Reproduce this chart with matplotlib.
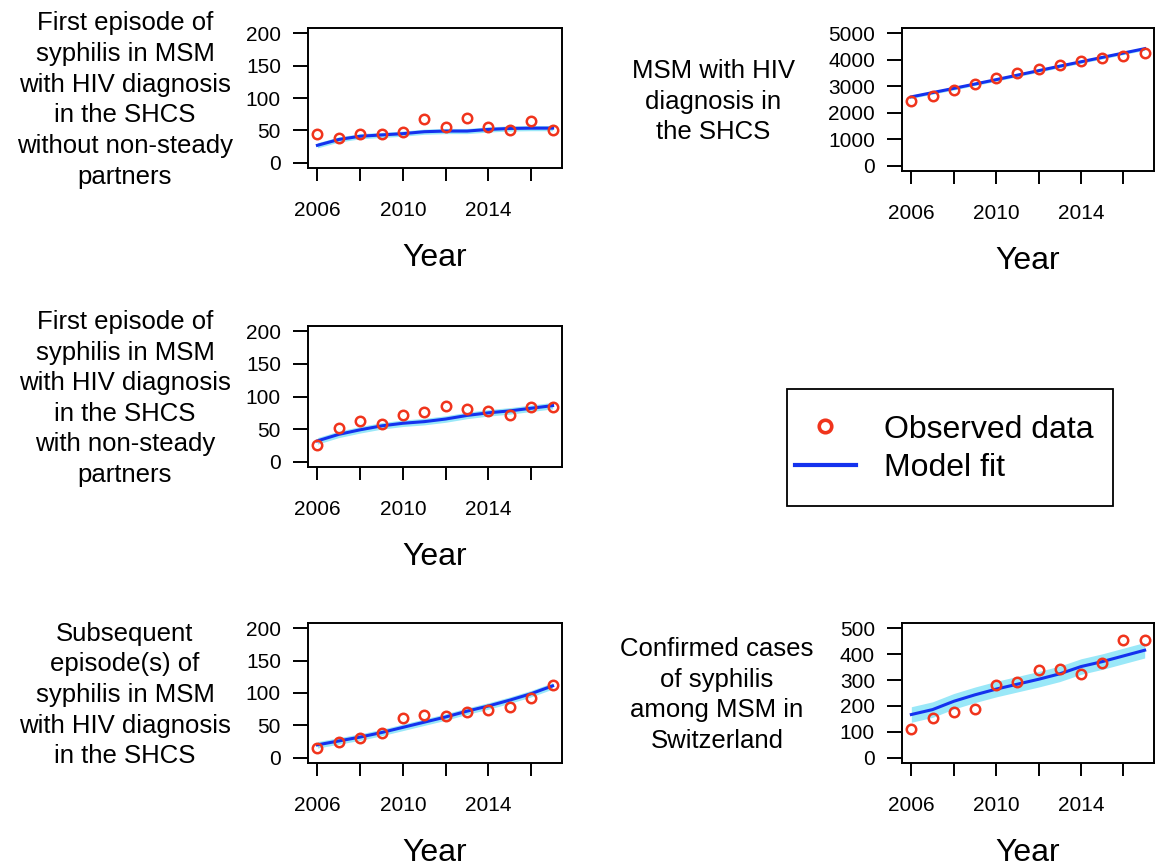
import numpy as np
import matplotlib
matplotlib.use("Agg")
import matplotlib.pyplot as plt
from matplotlib.patches import Rectangle
from matplotlib.lines import Line2D

plt.rcParams['font.family'] = ['Liberation Sans', 'DejaVu Sans']

years = list(range(2006, 2018))
tick_years = list(range(2006, 2017, 2))
tick_labels = ['2006', '', '2010', '', '2014', '']

# panel 1: first episode, without non-steady partners
obs_1 = [44, 38, 45, 44, 47, 67, 56, 69, 56, 50, 64, 51]
fit_1 = [27, 36, 41, 43, 45, 48, 49, 49, 51.5, 53, 53.5, 53.5]
band_1 = 4

# panel 2: MSM with HIV diagnosis in SHCS
obs_2 = [2460, 2640, 2845, 3090, 3295, 3500, 3655, 3795, 3960, 4075, 4155, 4255]
fit_2 = [2600, 2760, 2920, 3085, 3250, 3420, 3590, 3760, 3925, 4090, 4255, 4420]
band_2 = 60

# panel 3: first episode, with non-steady partners
obs_3 = [25, 51, 63, 58.5, 72, 76, 85.5, 80.5, 77.5, 71, 84.5, 84.5]
fit_3 = [32, 42, 49, 55, 59, 61.5, 65.5, 71, 75, 78, 82, 86]
band_3 = 5

# panel 5: subsequent episodes
obs_5 = [15, 24.5, 30, 38.5, 61.5, 66, 65, 70, 74, 78, 93, 112.5]
fit_5 = [20, 26, 32, 39, 47, 55, 63, 72, 80, 89, 99, 111]
band_5 = 5

# panel 6: confirmed cases in Switzerland
obs_6 = [112, 153, 176, 190, 279, 291, 338, 342, 322, 365, 455, 453]
fit_6 = [167, 186, 218, 243, 265, 284, 303, 324, 352, 371, 393, 415]
band_6 = 30

titles = [
    "First episode of\nsyphilis in MSM\nwith HIV diagnosis\nin the SHCS\nwithout non-steady\npartners",
    "MSM with HIV\ndiagnosis in\nthe SHCS",
    "First episode of\nsyphilis in MSM\nwith HIV diagnosis\nin the SHCS\nwith non-steady\npartners",
    "Subsequent\nepisode(s) of\nsyphilis in MSM\nwith HIV diagnosis\nin the SHCS",
    "Confirmed cases\nof syphilis\namong MSM in\nSwitzerland",
]

W, H = 1163, 865
red = '#f0341c'
blue = '#1432ee'
cyan = '#9ae8f8'

fig = plt.figure(figsize=(W / 100, H / 100), dpi=100)


def px_axes(left, top, right, bottom):
    return fig.add_axes([left / W, 1 - bottom / H, (right - left) / W, (bottom - top) / H])


panels = [
    (308, 28, 562, 168, obs_1, fit_1, band_1, [0, 50, 100, 150, 200], 125, titles[0]),
    (902, 28, 1154, 171, obs_2, fit_2, band_2, [0, 1000, 2000, 3000, 4000, 5000], 713, titles[1]),
    (308, 326, 562, 467, obs_3, fit_3, band_3, [0, 50, 100, 150, 200], 125, titles[2]),
    (308, 623, 562, 763, obs_5, fit_5, band_5, [0, 50, 100, 150, 200], 125, titles[3]),
    (902, 623, 1154, 763, obs_6, fit_6, band_6, [0, 100, 200, 300, 400, 500], 717, titles[4]),
]

for left, top, right, bottom, obs, fit, band, yt, tx, title in panels:
    ax = px_axes(left, top, right, bottom)
    fit = np.array(fit, dtype=float)
    ax.fill_between(years, fit - band, fit + band, color=cyan, lw=0, zorder=1)
    ax.plot(years, fit, color=blue, lw=2.2, zorder=2)
    ax.plot(years, obs, 'o', mfc='none', mec=red, mew=1.8, ms=6.8, zorder=3, clip_on=False)
    ext = 0.04 * (yt[-1] - yt[0])
    ax.set_ylim(yt[0] - ext, yt[-1] + ext)
    ax.set_xlim(2006 - 0.44, 2017 + 0.44)
    ax.set_yticks(yt)
    ax.set_yticklabels([str(v) for v in yt])
    ax.set_xticks(tick_years)
    ax.set_xticklabels(tick_labels)
    ax.tick_params(axis='y', direction='out', length=10.5, width=1.4, pad=9, labelsize=15)
    ax.tick_params(axis='x', direction='out', length=9.5, width=1.4, pad=14, labelsize=15)
    for s in ax.spines.values():
        s.set_linewidth(1.4)
    cx = (left + right) / 2
    fig.text(cx / W, 1 - (bottom + 90) / H, "Year", ha='center', va='center', fontsize=23)
    cy = (top + bottom) / 2
    fig.text(tx / W, 1 - (cy + 2) / H, title, ha='center', va='center', fontsize=18.5,
             multialignment='center', linespacing=1.35)

# legend box
fig.patches.append(Rectangle((787 / W, 1 - 506 / H), 326 / W, 117 / H, transform=fig.transFigure,
                             fill=False, edgecolor='black', lw=1.3))
leg_handles = [
    Line2D([], [], ls='none', marker='o', mfc='none', mec=red, mew=2.6, ms=9),
    Line2D([], [], color=blue, lw=3),
]
fig.legend(leg_handles, ['Observed data', 'Model fit'], loc='center left',
           bbox_to_anchor=(787 / W, 1 - 449 / H), frameon=False, fontsize=23,
           handlelength=1.9, handletextpad=0.9, labelspacing=0.28, borderpad=0.25,
           borderaxespad=0)

fig.savefig("out.png", dpi=100)
